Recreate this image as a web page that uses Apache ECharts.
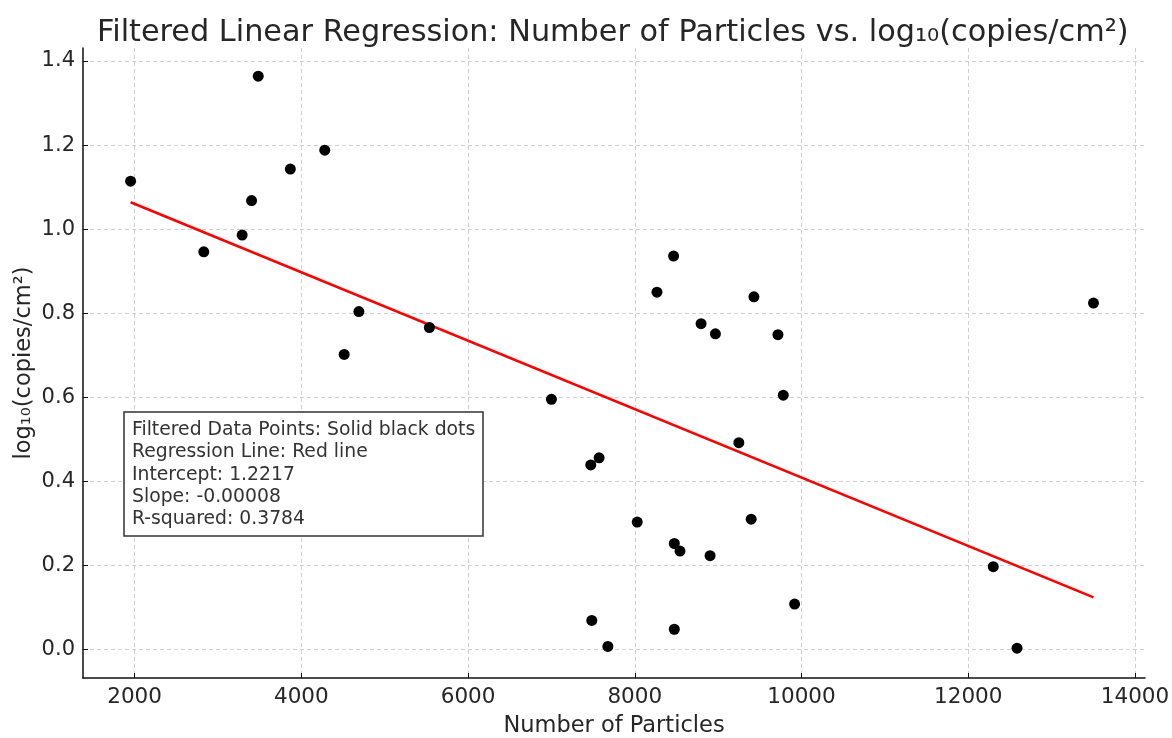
<!DOCTYPE html>
<html>
<head>
<meta charset="utf-8">
<script src="https://cdn.jsdelivr.net/npm/echarts@6/dist/echarts.min.js"></script>
<style>
  html, body { margin: 0; padding: 0; background: #fff; }
  #chart { width: 1172px; height: 738px; }
</style>
</head>
<body>
<div id="chart"></div>
<script>
// number of particles / log10(copies/cm2) for the filtered points
var particles = [1952, 2830, 3290, 3403, 3483, 3868, 4281, 4514, 4690, 5536,
    7000, 7472, 7484, 7572, 7677, 8029, 8266, 8465, 8474, 8474, 8542,
    8795, 8903, 8967, 9248, 9396, 9429, 9717, 9781, 9917, 12300, 12585, 13502];
var logCopies = [1.114, 0.946, 0.986, 1.068, 1.364, 1.143, 1.188, 0.702, 0.804, 0.766,
    0.595, 0.439, 0.069, 0.456, 0.007, 0.303, 0.850, 0.936, 0.252, 0.048, 0.234,
    0.775, 0.223, 0.751, 0.492, 0.310, 0.839, 0.749, 0.605, 0.108, 0.197, 0.003, 0.824];

// regression line ends (min and max particle count)
var lineX = [1952, 13502];
var lineY = [1.064, 0.124];

var xTicks = [2000, 4000, 6000, 8000, 10000, 12000, 14000];
var yTicks = [0.0, 0.2, 0.4, 0.6, 0.8, 1.0, 1.2, 1.4];

var notes = [
    'Filtered Data Points: Solid black dots',
    'Regression Line: Red line',
    'Intercept: 1.2217',
    'Slope: -0.00008',
    'R-squared: 0.3784'
];

var font = 'DejaVu Sans';
var chart = echarts.init(document.getElementById('chart'));

var points = [];
for (var i = 0; i < particles.length; i++) {
    points.push([particles[i], logCopies[i]]);
}
var line = [];
for (var j = 0; j < lineX.length; j++) {
    line.push([lineX[j], lineY[j]]);
}

var grid = {
    type: [4, 3],
    color: '#cfcfcf',
    width: 1
};

var option = {
    animation: false,
    backgroundColor: '#fff',
    title: [{
        text: 'Filtered Linear Regression: Number of Particles vs. log₁₀(copies/cm²)',
        left: 92,
        top: 13,
        textStyle: { fontFamily: font, fontSize: 30.3, fontWeight: 'normal', color: '#262626' }
    }, {
        text: notes.join('\n'),
        left: 124,
        top: 412,
        padding: [7, 8, 6, 8],
        backgroundColor: '#fff',
        borderColor: '#333',
        borderWidth: 1.5,
        textStyle: { fontFamily: font, fontSize: 18.8, fontWeight: 'normal', color: '#333', lineHeight: 22.3 }
    }],
    grid: { left: 83, right: 27, top: 48, bottom: 60, containLabel: false, outerBoundsMode: 'none' },
    xAxis: {
        type: 'value',
        min: 1381,
        max: 14120,
        name: 'Number of Particles',
        nameLocation: 'middle',
        nameGap: 37,
        nameTextStyle: { fontFamily: font, fontSize: 22.5, color: '#262626' },
        axisLine: { show: true, onZero: false, lineStyle: { color: '#111', width: 1.5 } },
        axisTick: { show: true, inside: true, length: 5, customValues: xTicks, lineStyle: { color: '#111' } },
        axisLabel: {
            customValues: xTicks, fontFamily: font, fontSize: 21.5, color: '#262626', margin: 8,
            formatter: function (v) { return String(v); }
        },
        splitLine: { show: true, lineStyle: grid }
    },
    yAxis: {
        type: 'value',
        min: -0.068,
        max: 1.431,
        name: 'log₁₀(copies/cm²)',
        nameLocation: 'middle',
        nameGap: 47,
        nameMoveOverlap: false,
        nameTextStyle: { fontFamily: font, fontSize: 22.5, color: '#262626' },
        axisLine: { show: true, onZero: false, lineStyle: { color: '#111', width: 1.5 } },
        axisTick: { show: true, inside: true, length: 5, customValues: yTicks, lineStyle: { color: '#111' } },
        axisLabel: {
            customValues: yTicks, fontFamily: font, fontSize: 21, color: '#262626', margin: 8,
            formatter: function (v) { return v.toFixed(1); }
        },
        splitLine: { show: true, lineStyle: grid }
    },
    series: [{
        type: 'line',
        data: line,
        showSymbol: false,
        lineStyle: { color: '#ff0000', width: 2.5 },
        z: 3
    }, {
        type: 'scatter',
        data: points,
        symbolSize: 11,
        itemStyle: { color: '#000', opacity: 1 },
        z: 4
    }]
};

chart.setOption(option);
</script>
</body>
</html>
